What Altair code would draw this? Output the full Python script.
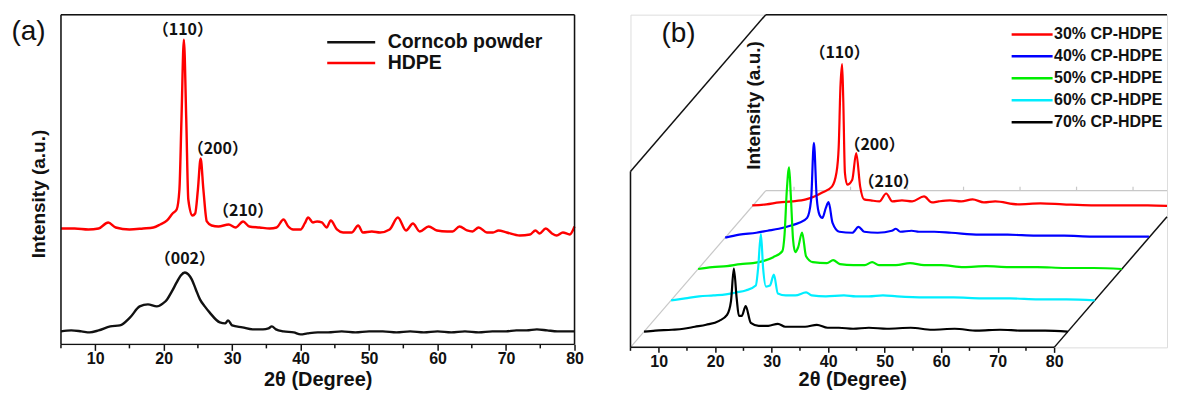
import altair as alt
import pandas as pd

FONT = "Liberation Sans, Arial, sans-serif"
CJK = "Noto Sans CJK TC, Noto Sans CJK SC, Liberation Sans, sans-serif"
INK = "#111111"

# ---------------- Panel (a) data ----------------
A_SERIES = ["Corncob powder", "HDPE"]
A_COLORS = ["#111111", "#ff0000"]

HDPE_X = [5, 7, 9, 10.5, 11.9, 13, 15, 17, 18.5, 19.5, 20.5, 21.3, 21.9, 22.3, 22.6, 22.95, 23.3, 23.6, 24.2, 24.6,
          25.0, 25.4, 25.8, 26.3, 27, 28, 29.5, 30.5, 31.6, 32.5, 34, 35.5, 36.5, 37.5, 38.2, 38.9, 40, 40.6, 41.1, 41.8,
          42.4, 43.1, 43.8, 44.4, 45.3, 46.2, 47.5, 48.4, 49.1, 50.4, 51.6, 53.0, 54.2, 55.4, 56.4, 57.4, 58.7, 59.9,
          61.4, 62.2, 63.2, 64.3, 65.1, 66.0, 67.2, 68.1, 68.9, 70.1, 72.0, 73.5, 74.3, 74.9, 75.8, 76.7, 77.4, 78.3,
          79.3, 80]
HDPE_I = [116, 116, 115, 116, 122, 117, 115, 116, 117, 120, 124, 131, 135, 155, 225, 305, 225, 145, 129, 131,
          155, 186, 155, 123, 119, 118, 120, 117, 123, 118, 117, 116, 117, 125, 118, 115, 115, 121, 127, 122,
          123, 122, 117, 124, 115, 112, 112, 119, 112, 113, 112, 115, 127, 114, 121, 113, 118, 114,
          113, 113, 118, 114, 113, 117, 112, 112, 114, 112, 109, 110, 114, 111, 116, 111, 109, 112,
          110, 118]

CORN_X = [5, 6.5, 8, 9.2, 10.5, 12.2, 13.6, 15.1, 16.5, 17.7, 19.0, 19.9, 20.5, 21.2, 21.9, 22.5, 23.1, 23.6, 24.1,
          24.7, 25.3, 26.0, 26.7, 28.2, 29.0, 29.4, 30.0, 31.5, 33, 34.5, 35.3, 35.8, 36.4, 37.5, 39, 40, 41, 42.5, 44,
          46, 48, 50, 52, 54, 56, 58, 60, 62, 64, 66, 68, 70, 71.5, 73, 74.5, 76, 77.5, 80]
CORN_I = [13, 14, 13, 12, 14, 18, 19, 27, 38, 40, 38, 41, 45, 53, 62, 69, 72, 70, 65,
          55, 45, 38, 32, 22, 21, 24, 19, 17, 15, 15, 16, 18, 15, 13, 12, 10, 11, 12, 12,
          13, 12, 13, 13, 12, 13, 12, 13, 12, 13, 12, 13, 13, 14, 14, 15, 14, 13, 13]

A_XDOMAIN = [5, 80]
A_YDOMAIN = [0, 330]
A_MAJOR = [10, 20, 30, 40, 50, 60, 70, 80]
A_MINOR = [5, 15, 25, 35, 45, 55, 65, 75]

A_NOTE_TEXT = ["（110）", "（200）", "（210）", "（002）"]
A_NOTE_X = [22.8, 27.9, 31.6, 23.1]
A_NOTE_Y = [315, 196, 133, 85]

# ---------------- Panel (b) data ----------------
B_SERIES = ["30% CP-HDPE", "40% CP-HDPE", "50% CP-HDPE", "60% CP-HDPE", "70% CP-HDPE"]
B_COLORS = ["#ff0000", "#0000ff", "#00ee00", "#00eeff", "#000000"]

B30_X = [5, 7.5, 9.8, 12, 14.5, 16, 17.4, 19.1, 19.9, 20.3, 20.6, 20.9, 21.1, 21.4, 21.8, 22.7, 23.4, 24.1, 24.8, 26,
         27.5, 28.7, 29.8, 31.5, 33.3, 35.4, 36.8, 38, 40, 42, 44, 46, 48, 52, 56, 60, 65, 70, 75, 80]
B30_I = [1, 2, 4, 5, 7, 10, 14, 20, 34, 60, 120, 144, 110, 34, 22, 27, 54, 20, 7, 6,
         5, 13, 5, 6, 5, 10, 4, 5, 6, 5, 7, 4, 5, 2, 3, 2, 1, 1, 1, 0]

B40_X = [5, 7.5, 10.5, 12.5, 14.5, 16.5, 18.1, 19.5, 20.2, 20.7, 21.2, 21.7, 22.2, 22.8, 23.3, 24.0, 25.2, 27.5, 28.6,
         29.6, 32, 34.5, 35.2, 36, 38, 39.3, 42, 45, 50, 55, 60, 65, 70, 75, 80]
B40_I = [0, 3, 5, 7, 9, 12, 15, 20, 38, 96, 40, 23, 20, 30, 36, 15, 6, 5, 11,
         6, 5, 7, 9, 6, 7, 6, 6, 5, 3, 3, 2, 2, 1, 1, 1]

B50_X = [5, 7.5, 10.1, 12.5, 14.7, 16.5, 18.3, 19.9, 20.3, 20.7, 21.1, 21.4, 21.8, 22.2, 22.7, 23.4, 24.1, 25.3, 27.8,
         28.9, 30.1, 32.5, 34.5, 35.8, 37, 40, 42.5, 45, 48, 52, 56, 60, 65, 70, 75, 80]
B50_I = [0, 2, 3, 5, 6, 8, 12, 18, 35, 80, 103, 75, 30, 17, 22, 37, 13, 7, 6,
         9, 5, 4, 4, 7, 4, 4, 6, 4, 4, 2, 3, 2, 2, 1, 1, 0]

B60_X = [5, 7.5, 9.95, 12.5, 14.7, 16.5, 18.2, 20.0, 20.4, 20.9, 21.3, 21.8, 22.5, 23.2, 23.9, 25.3, 27, 28.9, 29.9,
         32.4, 35.6, 37.7, 40, 42.5, 45, 50, 55, 60, 65, 70, 75, 80]
B60_I = [0, 2, 4, 5, 6, 8, 10, 15, 32, 67, 32, 14, 15, 26, 7, 5, 5, 8, 5,
         4, 5, 4, 4, 5, 4, 3, 3, 2, 2, 1, 1, 0]

B70_X = [5, 7, 9.95, 12, 14, 16, 18.3, 19.7, 20.4, 20.9, 21.4, 21.8, 22.3, 23.0, 23.9, 25.3, 27, 28.7, 30, 31.2,
         33.5, 35.6, 37.5, 39.5, 42, 44.8, 48, 52.2, 56, 60, 64, 68, 72, 76, 80]
B70_I = [0, 1, 2, 3, 5, 7, 11, 17, 31, 64, 34, 16, 16, 26, 9, 6, 6, 8, 5, 5,
         5, 7, 4, 4, 3, 4, 3, 4, 2, 3, 1, 2, 1, 1, 0]

B_X = [B30_X, B40_X, B50_X, B60_X, B70_X]
B_I = [B30_I, B40_I, B50_I, B60_I, B70_I]

B_PX_PER_UNIT = 5.655
B_WIDTH = 537
B_HEIGHT = 333
B_XDOMAIN = [5, 5 + B_WIDTH / B_PX_PER_UNIT]
B_FRONT = [5, 80]
B_TOP = 337
B_MAJOR = [10, 20, 30, 40, 50, 60, 70, 80]
B_MINOR = [5, 15, 25, 35, 45, 55, 65, 75]

# pseudo-3D depth step (per series slot) in data units
DX = 4.79
DY = 31.75
NSLOT = 5

B_NOTE_TEXT = ["（110）", "（200）", "（210）"]
B_NOTE_X = [42.0, 48.2, 50.7]
B_NOTE_Y = [298, 205, 168]

# ---------------- Panel (a) ----------------
a_rows = []
for name, xs, ys in [(A_SERIES[0], CORN_X, CORN_I), (A_SERIES[1], HDPE_X, HDPE_I)]:
    for xv, yv in zip(xs, ys):
        a_rows.append({"series": name, "x": xv, "y": yv})
a_df = pd.DataFrame(a_rows)

xa_scale = alt.Scale(domain=A_XDOMAIN, nice=False, zero=False)
ya_scale = alt.Scale(domain=A_YDOMAIN, nice=False, zero=False)

x_axis_a = alt.Axis(values=A_MAJOR, format="d", title="2θ (Degree)", domain=False, grid=False,
                    tickSize=6, tickWidth=1.5, tickColor=INK, labelFont=FONT, labelFontSize=16,
                    labelFontWeight="bold", labelColor=INK, labelPadding=0, labelFlush=False,
                    labelOverlap=False, titleFont=FONT, titleFontSize=20, titleFontWeight="bold",
                    titleColor=INK, titlePadding=3)
y_axis_a = alt.Axis(title="Intensity (a.u.)", labels=False, ticks=False, domain=False, grid=False,
                    titleFont=FONT, titleFontSize=19, titleFontWeight="bold", titleColor=INK,
                    titlePadding=12, titleY=179, titleAlign="center")

XA = lambda f="x": alt.X(f"{f}:Q", scale=xa_scale, axis=x_axis_a)
YA = lambda f="y": alt.Y(f"{f}:Q", scale=ya_scale, axis=y_axis_a)

legend_a = alt.Legend(orient="none", legendX=265, legendY=17, direction="vertical", title=None,
                      symbolType="stroke", symbolSize=48 * 48, symbolStrokeWidth=2.5,
                      labelFont=FONT, labelFontSize=19.5, labelFontWeight="bold", labelColor=INK,
                      clipHeight=21, rowPadding=0, labelOffset=11, padding=0)

lines_a = alt.Chart(a_df).mark_line(strokeWidth=2.4, strokeJoin="round", interpolate="monotone").encode(
    x=XA(), y=YA(),
    color=alt.Color("series:N", scale=alt.Scale(domain=A_SERIES, range=A_COLORS), legend=legend_a),
)

ax0, ax1 = A_XDOMAIN
ay0, ay1 = A_YDOMAIN
frame_a = alt.Chart(pd.DataFrame([
    {"x": ax0, "y": ay0, "x2": ax1, "y2": ay0},
    {"x": ax0, "y": ay1, "x2": ax1, "y2": ay1},
    {"x": ax0, "y": ay0, "x2": ax0, "y2": ay1},
    {"x": ax1, "y": ay0, "x2": ax1, "y2": ay1},
])).mark_rule(color=INK, strokeWidth=1.5).encode(x=XA(), y=YA(), x2="x2:Q", y2="y2:Q")

minor_a = alt.Chart(pd.DataFrame({"x": A_MINOR, "y": [0] * len(A_MINOR), "y2": [-4] * len(A_MINOR)})).mark_rule(
    color=INK, strokeWidth=1.5).encode(x=XA(), y=YA(), y2="y2:Q")

notes_a = alt.Chart(pd.DataFrame({"x": A_NOTE_X, "y": A_NOTE_Y, "t": A_NOTE_TEXT})).mark_text(
    font=CJK, fontSize=16, fontWeight="bold", color=INK, align="center", baseline="middle").encode(
    x=XA(), y=YA(), text="t:N")

tag_a = alt.Chart(pd.DataFrame({"x": [0.26], "y": [313], "t": ["(a)"]})).mark_text(
    font=FONT, fontSize=28, color=INK, align="center", baseline="middle").encode(x=XA(), y=YA(), text="t:N")

panel_a = alt.layer(lines_a, frame_a, minor_a, notes_a, tag_a).properties(width=514, height=330)

# ---------------- Panel (b) ----------------
b_rows = []
for k, (name, xs, ys) in enumerate(zip(B_SERIES, B_X, B_I)):
    for xv, yv in zip(xs, ys):
        b_rows.append({"series": name, "theta": xv, "inten": yv, "depth": NSLOT - 0.5 - k})
b_df = pd.DataFrame(b_rows)

xb_scale = alt.Scale(domain=B_XDOMAIN, nice=False, zero=False)
yb_scale = alt.Scale(domain=[0, B_TOP], nice=False, zero=False)

x_axis_b = alt.Axis(values=B_MAJOR, format="d", title="2θ (Degree)", domain=False, grid=False,
                    tickSize=5, tickWidth=1.5, tickColor=INK, labelFont=FONT, labelFontSize=16,
                    labelFontWeight="bold", labelColor=INK, labelPadding=1, labelFlush=False,
                    labelOverlap=False, titleFont=FONT, titleFontSize=20, titleFontWeight="bold",
                    titleColor=INK, titlePadding=0, titleX=222, titleAlign="center")

XB = lambda f="x": alt.X(f"{f}:Q", scale=xb_scale, axis=x_axis_b)
YB = lambda f="y": alt.Y(f"{f}:Q", scale=yb_scale, axis=None)

BACK_DX = DX * NSLOT
BACK_DY = DY * NSLOT
FRONT_TOP = B_TOP - BACK_DY
XR = B_XDOMAIN[1]
x0, x1 = B_FRONT
right_end_y = (XR - x1) / BACK_DX * BACK_DY

frame_black = pd.DataFrame([
    {"x": x0, "y": 0, "x2": x1, "y2": 0},
    {"x": x0, "y": 0, "x2": x0, "y2": FRONT_TOP},
    {"x": x0, "y": FRONT_TOP, "x2": x0 + BACK_DX, "y2": B_TOP},
    {"x": x0 + BACK_DX, "y": B_TOP, "x2": XR, "y2": B_TOP},
    {"x": x1, "y": 0, "x2": XR, "y2": right_end_y},
])
grey_rows = [
    {"x": x0, "y": 0, "x2": x0 + BACK_DX, "y2": BACK_DY},
    {"x": x0 + BACK_DX, "y": BACK_DY, "x2": XR, "y2": BACK_DY},
]
for t in B_MAJOR:
    if t + BACK_DX < XR:
        grey_rows.append({"x": t + BACK_DX, "y": BACK_DY, "x2": t + BACK_DX, "y2": BACK_DY + 4})
frame_grey = pd.DataFrame(grey_rows)

fb = alt.Chart(frame_black).mark_rule(color=INK, strokeWidth=1.5).encode(
    x=XB(), y=YB(), x2="x2:Q", y2="y2:Q")
fg = alt.Chart(frame_grey).mark_rule(color="#c8c8c8", strokeWidth=1.2).encode(
    x=XB(), y=YB(), x2="x2:Q", y2="y2:Q")

minor_b = alt.Chart(pd.DataFrame({"x": B_MINOR, "y": [0] * len(B_MINOR), "y2": [-3.5] * len(B_MINOR)})).mark_rule(
    color=INK, strokeWidth=1.5).encode(x=XB(), y=YB(), y2="y2:Q")

legend_b = alt.Legend(orient="none", legendX=380, legendY=9, direction="vertical", title=None,
                      symbolType="stroke", symbolSize=41 * 41, symbolStrokeWidth=2.5,
                      labelFont=FONT, labelFontSize=16, labelFontWeight="bold", labelColor=INK,
                      clipHeight=21.5, rowPadding=0, labelOffset=0, padding=0)

lines_b = alt.Chart(b_df).transform_calculate(
    x=f"datum.theta + datum.depth * {DX}",
    y=f"datum.inten + datum.depth * {DY}",
).mark_line(strokeWidth=2.2, strokeJoin="round", clip=True, interpolate="monotone").encode(
    x=XB(), y=YB(),
    color=alt.Color("series:N", scale=alt.Scale(domain=B_SERIES, range=B_COLORS), legend=legend_b),
    order=alt.Order("theta:Q"),
)

notes_b = alt.Chart(pd.DataFrame({"x": B_NOTE_X, "y": B_NOTE_Y, "t": B_NOTE_TEXT})).mark_text(
    font=CJK, fontSize=16, fontWeight="bold", color=INK, align="center", baseline="middle").encode(
    x=XB(), y=YB(), text="t:N")

ytitle_b = alt.Chart(pd.DataFrame({"x": [26.93], "y": [245], "t": ["Intensity (a.u.)"]})).mark_text(
    font=FONT, fontSize=19, fontWeight="bold", color=INK, align="center", baseline="middle", angle=270).encode(
    x=XB(), y=YB(), text="t:N")

tag_b = alt.Chart(pd.DataFrame({"x": [13.5], "y": [317], "t": ["(b)"]})).mark_text(
    font=FONT, fontSize=28, color=INK, align="center", baseline="middle").encode(x=XB(), y=YB(), text="t:N")

panel_b = alt.layer(fg, fb, minor_b, lines_b, notes_b, ytitle_b, tag_b).properties(
    width=B_WIDTH, height=B_HEIGHT)

chart = alt.hconcat(panel_a, panel_b, spacing=44).resolve_scale(
    x="independent", y="independent", color="independent"
).properties(
    padding={"left": 2, "top": 4.5, "right": 0, "bottom": 0}
).configure_view(stroke=None).configure(background="white")

chart.save("out.html", embed_options={"renderer": "svg", "actions": False})
